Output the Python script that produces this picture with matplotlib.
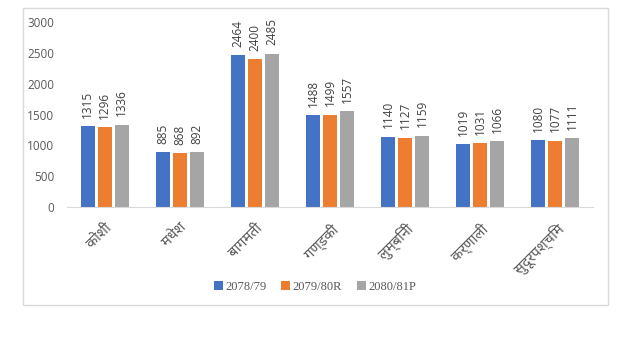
import numpy as np
import matplotlib
matplotlib.use("Agg")
import matplotlib.pyplot as plt
from matplotlib.patches import Rectangle

# provinces and yearly values
provinces = ["कोशी", "मधेश", "बागमती", "गण्डकी", "लुम्बिनी", "कर्णाली", "सुदूरपश्चिम"]
years = ["2078/79", "2079/80R", "2080/81P"]
v_2078 = [1315, 885, 2464, 1488, 1140, 1019, 1080]
v_2079 = [1296, 868, 2400, 1499, 1127, 1031, 1077]
v_2080 = [1336, 892, 2485, 1557, 1159, 1066, 1111]
colors = ["#4472C4", "#ED7D31", "#A5A5A5"]

dev_fonts = ["Noto Sans Devanagari", "Mukta", "Hind", "DejaVu Sans"]
num_font = ["Open Sans", "DejaVu Sans"]

fig = plt.figure(figsize=(6.31, 3.41), dpi=100)
fig.patches.append(Rectangle((23 / 631, 36 / 341), 585 / 631, 297 / 341,
                             transform=fig.transFigure, fill=False,
                             edgecolor="#d9d9d9", linewidth=1))

ax = fig.add_axes([67 / 631, 134 / 341, 526 / 631, 185 / 341])
x = np.arange(len(provinces))
w = 0.186
off = 0.226
for i, (vals, lab) in enumerate(zip([v_2078, v_2079, v_2080], years)):
    bars = ax.bar(x + (i - 1) * off, vals, width=w, color=colors[i], label=lab)
    for b, v in zip(bars, vals):
        ax.annotate(str(v), (b.get_x() + b.get_width() / 2, v),
                    xytext=(0, 6), textcoords="offset points",
                    rotation=90, ha="center", va="bottom",
                    fontsize=8.5, color="#404040", family=num_font)

ax.set_xlim(-0.5, len(provinces) - 0.5)
ax.set_ylim(0, 3000)
ax.set_yticks(range(0, 3001, 500))
ax.tick_params(axis="y", length=0, labelsize=8.5, labelcolor="#595959", pad=9)
for t in ax.get_yticklabels():
    t.set_family(num_font)
ax.tick_params(axis="x", length=0, pad=10)
ax.set_xticks(x)
ax.set_xticklabels(provinces, rotation=45, ha="right", rotation_mode="anchor",
                   fontsize=10.5, color="#595959", family=dev_fonts)
for s in ["top", "right", "left"]:
    ax.spines[s].set_visible(False)
ax.spines["bottom"].set_color("#d9d9d9")

leg = fig.legend(loc="center", bbox_to_anchor=(315 / 631, 1 - 287 / 341),
                 ncol=3, frameon=False, handlelength=0.7, handleheight=0.7,
                 handletextpad=0.2, columnspacing=1.2,
                 prop={"family": "Liberation Serif", "size": 9})
for t in leg.get_texts():
    t.set_color("#595959")

fig.savefig("out.png", dpi=100)
